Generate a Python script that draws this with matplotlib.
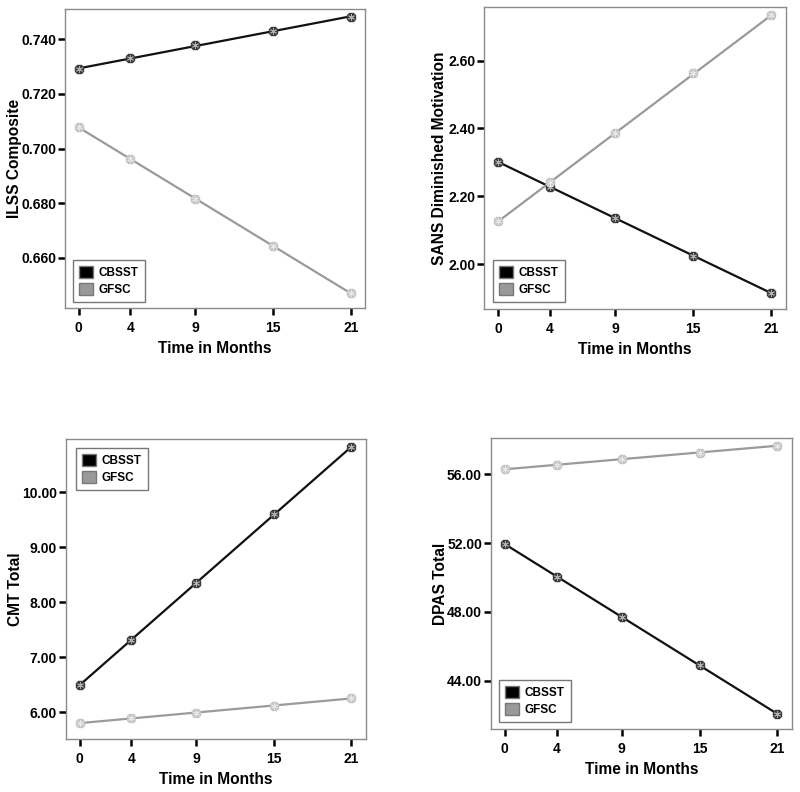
import numpy as np
import matplotlib
matplotlib.use("Agg")
import matplotlib.pyplot as plt
from matplotlib.patches import Patch

plt.rcParams['font.family'] = ['Liberation Sans', 'DejaVu Sans']
plt.rcParams['font.weight'] = 'bold'

months = [0, 4, 9, 15, 21]
groups = ["CBSST", "GFSC"]

# values
ilss_cbsst = [0.7292, 0.7330, 0.7378, 0.7430, 0.7483]
ilss_gfsc = [0.7079, 0.6960, 0.6816, 0.6644, 0.6470]
sans_cbsst = [2.302, 2.228, 2.135, 2.025, 1.915]
sans_gfsc = [2.126, 2.241, 2.386, 2.562, 2.733]
cmt_cbsst = [6.49, 7.31, 8.345, 9.594, 10.818]
cmt_gfsc = [5.794, 5.891, 5.988, 6.115, 6.249]
dpas_cbsst = [51.95, 50.05, 47.72, 44.90, 42.06]
dpas_gfsc = [56.29, 56.54, 56.91, 57.26, 57.66]

line_col = {"CBSST": "#111111", "GFSC": "#9a9a9a"}
mark_col = {"CBSST": "#3c3c3c", "GFSC": "#c4c4c4"}
patch_col = {"CBSST": "#000000", "GFSC": "#999999"}


def panel(fig, rect, ylabel, cbsst, gfsc, ylim, yticks, fmt, leg_loc, leg_anchor, ylab_x):
    ax = fig.add_axes(rect)
    x = np.array(months)
    for name, vals in (("CBSST", cbsst), ("GFSC", gfsc)):
        slope, icpt = np.polyfit(x, vals, 1)
        xs = np.array([0, 21])
        ax.plot(xs, slope * xs + icpt, color=line_col[name], lw=1.6, zorder=2)
        ax.plot(x, vals, linestyle='none', marker='8', ms=7,
                mfc=mark_col[name], mec=mark_col[name], zorder=3)
        ax.plot(x, vals, linestyle='none', marker=(6, 2, 0), ms=5,
                mec='white', mew=0.6, alpha=0.6, zorder=4)
    ax.set_xlim(-1.05, 22.1)
    ax.set_ylim(*ylim)
    ax.set_xticks(months)
    ax.set_yticks(yticks)
    ax.set_yticklabels([fmt.format(v) for v in yticks])
    ax.tick_params(axis='both', direction='out', length=5, width=1.8,
                   color='black', labelsize=10)
    ax.tick_params(axis='y', pad=1.5)
    ax.tick_params(axis='x', pad=4)
    for lbl in ax.get_xticklabels() + ax.get_yticklabels():
        lbl.set_fontweight('bold')
    for sp in ax.spines.values():
        sp.set_color('#8a8a8a')
        sp.set_linewidth(1.0)
    ax.set_xlabel("Time in Months", fontsize=11.2, fontweight='bold', labelpad=5)
    ax.set_ylabel(ylabel, fontsize=11.2, fontweight='bold')
    ax.yaxis.set_label_coords(ylab_x, 0.5)
    handles = [Patch(facecolor=patch_col[g], edgecolor='#777777', label=g) for g in groups]
    leg = ax.legend(handles=handles, loc=leg_loc, bbox_to_anchor=leg_anchor,
                    borderaxespad=0, fancybox=False, framealpha=1,
                    edgecolor='#777777', prop={'weight': 'bold', 'size': 8.5},
                    handlelength=1.2, handleheight=1.2, handletextpad=0.5,
                    labelspacing=0.35, borderpad=0.5)
    leg.get_frame().set_linewidth(1.0)
    return ax


fig = plt.figure(figsize=(8, 7.92), dpi=100)

panel(fig, [0.0813, 0.6111, 0.375, 0.3775], "ILSS Composite",
      ilss_cbsst, ilss_gfsc, (0.6416, 0.7511), [0.66, 0.68, 0.70, 0.72, 0.74],
      "{:.3f}", 'lower left', (0.026, 0.02), -0.142)
panel(fig, [0.6054, 0.6098, 0.3768, 0.381], "SANS Diminished Motivation",
      sans_cbsst, sans_gfsc, (1.868, 2.757), [2.0, 2.2, 2.4, 2.6],
      "{:.2f}", 'lower left', (0.028, 0.023), -0.124)
panel(fig, [0.0825, 0.0669, 0.3746, 0.3784], "CMT Total",
      cmt_cbsst, cmt_gfsc, (5.509, 10.958), [6, 7, 8, 9, 10],
      "{:.2f}", 'upper left', (0.033, 0.97), -0.145)
panel(fig, [0.6138, 0.0795, 0.3759, 0.367], "DPAS Total",
      dpas_cbsst, dpas_gfsc, (41.19, 58.09), [44, 48, 52, 56],
      "{:.2f}", 'lower left', (0.026, 0.024), -0.142)

fig.savefig("out.png", dpi=100)
